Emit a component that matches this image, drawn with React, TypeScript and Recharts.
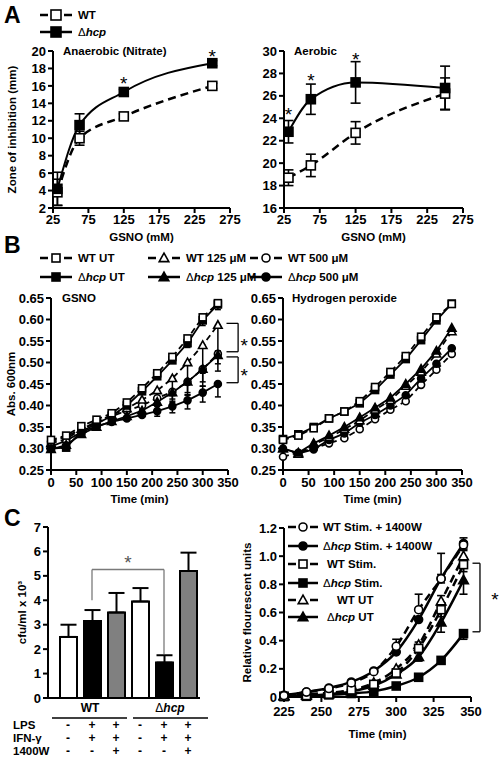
import React from 'react';
import {
  LineChart, Line, XAxis, YAxis, ErrorBar, ReferenceLine, ReferenceDot,
  BarChart, Bar, Cell,
} from 'recharts';

const FONT = '"Liberation Sans", Arial, Helvetica, sans-serif';

// ---------------- Panel A : zone of inhibition ----------------
const gsnoDoses = [31.25, 62.5, 125, 250];
const doseTicks = [25, 75, 125, 175, 225, 275];
const anaerobicWT = [3.8, 10.0, 12.5, 16.0];
const anaerobicWTErr = [1.5, 0.8, 0.3, 0.3];
const anaerobicHcp = [4.2, 11.5, 15.3, 18.6];
const anaerobicHcpErr = [1.9, 1.3, 0.3, 0.3];
const anaerobicStarDoses = [125, 250];
const anaerobicStarLevels = [16.25, 19.45];
const anaerobicTicks = [2, 4, 6, 8, 10, 12, 14, 16, 18, 20];

const aerobicWT = [18.7, 19.8, 22.7, 26.2];
const aerobicWTErr = [0.7, 1.0, 1.0, 1.4];
const aerobicHcp = [22.8, 25.7, 27.2, 26.7];
const aerobicHcpErr = [1.0, 1.35, 1.85, 1.95];
const aerobicStarDoses = [31.25, 62.5, 125];
const aerobicStarLevels = [24.35, 27.35, 29.25];
const aerobicTicks = [16, 18, 20, 22, 24, 26, 28, 30];

// ---------------- Panel B : growth curves ----------------
const times = [0, 30, 60, 90, 120, 150, 180, 210, 240, 270, 300, 330];
const timeTicks = [0, 50, 100, 150, 200, 250, 300, 350];
const absTicks = [0.25, 0.3, 0.35, 0.4, 0.45, 0.5, 0.55, 0.6, 0.65];

const gsnoWTUT = [0.320, 0.330, 0.352, 0.367, 0.382, 0.407, 0.440, 0.475, 0.513, 0.556, 0.605, 0.638];
const gsnoHcpUT = [0.300, 0.302, 0.340, 0.357, 0.376, 0.400, 0.433, 0.468, 0.505, 0.545, 0.598, 0.635];
const gsnoWT125 = [0.312, 0.322, 0.345, 0.362, 0.378, 0.393, 0.413, 0.435, 0.463, 0.500, 0.540, 0.587];
const gsnoHcp125 = [0.298, 0.308, 0.333, 0.350, 0.363, 0.375, 0.388, 0.408, 0.430, 0.455, 0.485, 0.517];
const gsnoWT500 = [0.316, 0.328, 0.345, 0.360, 0.375, 0.388, 0.400, 0.417, 0.432, 0.455, 0.485, 0.520];
const gsnoHcp500 = [0.305, 0.318, 0.338, 0.352, 0.362, 0.370, 0.378, 0.387, 0.398, 0.412, 0.430, 0.450];
const gsnoWT125Err = [[0, 0], [0, 0], [0, 0], [0, 0], [0, 0], [0.01, 0], [0.015, 0], [0.03, 0], [0.04, 0], [0.05, 0], [0.065, 0], [0.06, 0]];
const gsnoWT500Err = [[0, 0], [0, 0], [0, 0], [0, 0], [0, 0], [0, 0], [0.01, 0], [0.015, 0], [0.025, 0], [0.03, 0], [0.04, 0], [0.04, 0]];
const gsnoHcp500Err = [[0, 0], [0, 0], [0, 0], [0, 0], [0, 0], [0, 0], [0.005, 0.005], [0.012, 0.012], [0.015, 0.012], [0.02, 0.012], [0.022, 0.015], [0.03, 0]];
const gsnoHcp125Err = [[0, 0], [0, 0], [0, 0], [0, 0], [0, 0], [0, 0], [0, 0], [0.01, 0], [0.015, 0], [0.025, 0], [0.03, 0], [0.02, 0]];
const gsnoUTErr = [[0, 0], [0, 0], [0, 0], [0, 0], [0, 0], [0, 0], [0, 0], [0, 0], [0, 0], [0.01, 0], [0.012, 0.012], [0.012, 0]];

const h2o2WTUT = [0.320, 0.330, 0.347, 0.370, 0.386, 0.410, 0.443, 0.478, 0.515, 0.560, 0.605, 0.636];
const h2o2HcpUT = [0.322, 0.333, 0.350, 0.370, 0.386, 0.405, 0.436, 0.472, 0.508, 0.552, 0.598, 0.637];
const h2o2WT125 = [0.300, 0.287, 0.310, 0.325, 0.345, 0.365, 0.390, 0.412, 0.445, 0.478, 0.520, 0.572];
const h2o2Hcp125 = [0.300, 0.290, 0.312, 0.330, 0.350, 0.372, 0.395, 0.418, 0.450, 0.485, 0.527, 0.580];
const h2o2WT500 = [0.281, 0.290, 0.300, 0.312, 0.324, 0.345, 0.368, 0.390, 0.410, 0.448, 0.483, 0.520];
const h2o2Hcp500 = [0.300, 0.288, 0.298, 0.320, 0.335, 0.360, 0.378, 0.400, 0.424, 0.463, 0.497, 0.533];

// ---------------- Panel C : macrophage survival ----------------
const macCategories = ['WT UT', 'WT Stim.', 'WT Stim. + 1400W', 'Δhcp UT', 'Δhcp Stim.', 'Δhcp Stim. + 1400W'];
const macCfu = [2.5, 3.15, 3.5, 3.95, 1.45, 5.2];
const macCfuErr = [0.5, 0.45, 0.8, 0.55, 0.3, 0.75];
const macFill = ['#ffffff', '#000000', '#808080', '#ffffff', '#000000', '#808080'];
const lpsRow = ['-', '+', '+', '-', '+', '+'];
const ifnRow = ['-', '+', '+', '-', '+', '+'];
const w1400Row = ['-', '-', '+', '-', '-', '+'];
const cfuTicks = [0, 1, 2, 3, 4, 5, 6, 7];

const rfuTimes = [225, 240, 255, 270, 285, 300, 315, 330, 345];
const rfuTimeTicks = [225, 250, 275, 300, 325, 350];
const rfuTicks = [0, 0.2, 0.4, 0.6, 0.8, 1.0, 1.2];
const rfuWTStim1400 = [0.010, 0.035, 0.060, 0.100, 0.180, 0.360, 0.620, 0.840, 1.080];
const rfuHcpStim1400 = [0.012, 0.036, 0.064, 0.107, 0.185, 0.320, 0.550, 0.840, 1.090];
const rfuWTStim = [0.005, 0.010, 0.020, 0.050, 0.090, 0.170, 0.345, 0.620, 0.940];
const rfuHcpStim = [0.003, 0.005, 0.015, 0.025, 0.040, 0.078, 0.140, 0.260, 0.450];
const rfuWTUT = [0.010, 0.020, 0.030, 0.050, 0.100, 0.200, 0.370, 0.680, 1.000];
const rfuHcpUT = [0.005, 0.010, 0.020, 0.040, 0.080, 0.160, 0.285, 0.530, 0.830];
const rfuWTStim1400Err = [[0, 0], [0, 0], [0, 0], [0, 0], [0, 0], [0, 0.05], [0, 0.11], [0, 0.18], [0.02, 0.02]];
const rfuHcpStim1400Err = [[0, 0], [0, 0], [0, 0], [0, 0], [0, 0], [0, 0], [0, 0], [0.03, 0.03], [0.04, 0.04]];
const rfuWTStimErr = [[0, 0], [0, 0], [0, 0], [0, 0], [0, 0], [0, 0], [0.02, 0.02], [0.05, 0.05], [0.05, 0.05]];
const rfuHcpStimErr = [[0, 0], [0, 0], [0, 0], [0, 0], [0, 0], [0, 0], [0, 0], [0, 0], [0.04, 0.02]];
const rfuWTUTErr = [[0, 0], [0, 0], [0, 0], [0, 0], [0, 0], [0, 0], [0.02, 0.02], [0.04, 0.04], [0.04, 0.04]];
const rfuHcpUTErr = [[0, 0], [0, 0], [0, 0], [0, 0], [0, 0], [0, 0], [0.03, 0.03], [0.07, 0.07], [0.1, 0.1]];

// ---------------- helpers ----------------
const axisLine = { stroke: '#000', strokeWidth: 2 };
const tickStyle = { fill: '#000', fontSize: 13, fontWeight: 700, fontFamily: FONT };
const labelBase = { fontSize: 11.5, fontWeight: 700, fill: '#000', fontFamily: FONT };

type Shape = 'square' | 'triangle' | 'circle';

function Marker(props: any) {
  const { cx, cy, shape, filled, size } = props;
  if (cx == null || cy == null || Number.isNaN(cx) || Number.isNaN(cy)) return <g />;
  const fill = filled ? '#000' : '#fff';
  const s = size;
  if (shape === 'square') {
    return <rect x={cx - s / 2} y={cy - s / 2} width={s} height={s} fill={fill} stroke="#000" strokeWidth={1.6} />;
  }
  if (shape === 'triangle') {
    const pts = `${cx},${cy - s * 0.62} ${cx - s * 0.6},${cy + s * 0.45} ${cx + s * 0.6},${cy + s * 0.45}`;
    return <polygon points={pts} fill={fill} stroke="#000" strokeWidth={1.6} strokeLinejoin="miter" />;
  }
  return <circle cx={cx} cy={cy} r={s / 2} fill={fill} stroke="#000" strokeWidth={1.6} />;
}

const dotFn = (shape: Shape, filled: boolean, size: number) => (p: any) => (
  <Marker key={`m-${p.index}`} cx={p.cx} cy={p.cy} shape={shape} filled={filled} size={size} />
);

const starLabel = { value: '*', position: 'center' as const, fontSize: 19, fill: '#000', fontFamily: FONT };

function Hcp({ suffix }: { suffix?: string }) {
  return (
    <>
      <tspan fontWeight={400}>Δ</tspan>
      <tspan fontStyle="italic">hcp</tspan>
      {suffix ? <tspan>{suffix}</tspan> : null}
    </>
  );
}

function LegendEntry(props: any) {
  const { x, y, shape, filled, dashed, textX, len = 32, size = 8, children, dash = '8 16' } = props;
  return (
    <g>
      <line x1={x} x2={x + len} y1={y} y2={y} stroke="#000" strokeWidth={2.5} strokeDasharray={dashed ? dash : undefined} />
      <Marker cx={x + len / 2} cy={y} shape={shape} filled={filled} size={size} />
      <text x={textX ?? x + len + 6} y={y} dy="0.36em" fontSize={11.5} fontWeight={700} fill="#000" fontFamily={FONT}>
        {children}
      </text>
    </g>
  );
}

// ---------------- rows ----------------
const anaerobicRows = gsnoDoses.map((d, i) => ({
  dose: d, wt: anaerobicWT[i], wtErr: anaerobicWTErr[i], hcp: anaerobicHcp[i], hcpErr: anaerobicHcpErr[i],
}));
const aerobicRows = gsnoDoses.map((d, i) => ({
  dose: d, wt: aerobicWT[i], wtErr: aerobicWTErr[i], hcp: aerobicHcp[i], hcpErr: aerobicHcpErr[i],
}));
const gsnoRows = times.map((t, i) => ({
  t,
  wtUT: gsnoWTUT[i], hcpUT: gsnoHcpUT[i], wt125: gsnoWT125[i], hcp125: gsnoHcp125[i], wt500: gsnoWT500[i], hcp500: gsnoHcp500[i],
  wt125Err: gsnoWT125Err[i], wt500Err: gsnoWT500Err[i], hcp500Err: gsnoHcp500Err[i], hcp125Err: gsnoHcp125Err[i], utErr: gsnoUTErr[i],
}));
const h2o2Rows = times.map((t, i) => ({
  t,
  wtUT: h2o2WTUT[i], hcpUT: h2o2HcpUT[i], wt125: h2o2WT125[i], hcp125: h2o2Hcp125[i], wt500: h2o2WT500[i], hcp500: h2o2Hcp500[i],
}));
const macRows = macCategories.map((name, i) => ({ name, cfu: macCfu[i], err: [0, macCfuErr[i]] }));
const rfuRows = rfuTimes.map((t, i) => ({
  t,
  wtS14: rfuWTStim1400[i], hcpS14: rfuHcpStim1400[i], wtS: rfuWTStim[i], hcpS: rfuHcpStim[i], wtUT: rfuWTUT[i], hcpUT: rfuHcpUT[i],
  wtS14Err: rfuWTStim1400Err[i], hcpS14Err: rfuHcpStim1400Err[i], wtSErr: rfuWTStimErr[i], hcpSErr: rfuHcpStimErr[i],
  wtUTErr: rfuWTUTErr[i], hcpUTErr: rfuHcpUTErr[i],
}));

function ZoneChart({ rows, ticks, domain, starDoses, starLevels, yLabel, yWidth, width }: any) {
  return (
    <LineChart width={width} height={205} data={rows} margin={{ top: 11, right: 12, bottom: 4, left: 0 }}>
      <XAxis dataKey="dose" type="number" domain={[25, 275]} ticks={doseTicks} interval={0}
        axisLine={axisLine} tickLine={axisLine} tickSize={5} tick={tickStyle} height={33}
        label={{ value: 'GSNO (mM)', position: 'insideBottom', offset: 0, ...labelBase }} />
      <YAxis type="number" domain={domain} ticks={ticks} interval={0} width={yWidth}
        axisLine={axisLine} tickLine={axisLine} tickSize={5} tick={tickStyle}
        label={yLabel ? { value: yLabel, angle: -90, position: 'insideLeft', offset: 12, style: { textAnchor: 'middle' }, ...labelBase } : undefined} />
      <Line dataKey="wt" type="monotone" stroke="#000" strokeWidth={2.5} strokeDasharray="8 5"
        dot={dotFn('square', false, 9)} activeDot={false} isAnimationActive={false}>
        <ErrorBar dataKey="wtErr" width={5} stroke="#000" strokeWidth={1.6} />
      </Line>
      <Line dataKey="hcp" type="monotone" stroke="#000" strokeWidth={2}
        dot={dotFn('square', true, 9)} activeDot={false} isAnimationActive={false}>
        <ErrorBar dataKey="hcpErr" width={5} stroke="#000" strokeWidth={1.6} />
      </Line>
      {starDoses.map((d: number, i: number) => (
        <ReferenceDot key={`s${i}`} x={d} y={starLevels[i]} r={1} fill="none" stroke="none" ifOverflow="visible" label={starLabel} />
      ))}
    </LineChart>
  );
}

const bSeries = [
  { key: 'wt500', shape: 'circle', filled: false, dashed: true, err: 'wt500Err' },
  { key: 'hcp500', shape: 'circle', filled: true, dashed: false, err: 'hcp500Err' },
  { key: 'wt125', shape: 'triangle', filled: false, dashed: true, err: 'wt125Err' },
  { key: 'hcp125', shape: 'triangle', filled: true, dashed: false, err: 'hcp125Err' },
  { key: 'hcpUT', shape: 'square', filled: true, dashed: false, err: 'utErr' },
  { key: 'wtUT', shape: 'square', filled: false, dashed: true, err: null },
];

function GrowthChart({ rows, yWidth, width, rightMargin, yLabel, withErr, children }: any) {
  return (
    <LineChart width={width} height={220} data={rows} margin={{ top: 13, right: rightMargin, bottom: 2, left: 0 }}>
      <XAxis dataKey="t" type="number" domain={[0, 350]} ticks={timeTicks} interval={0}
        axisLine={axisLine} tickLine={axisLine} tickSize={5} tickMargin={3} tick={tickStyle} height={33}
        label={{ value: 'Time (min)', position: 'insideBottom', offset: 0, ...labelBase }} />
      <YAxis type="number" domain={[0.25, 0.65]} ticks={absTicks} interval={0} width={yWidth}
        tickFormatter={(v: number) => v.toFixed(2)}
        axisLine={axisLine} tickLine={axisLine} tickSize={5} tick={tickStyle}
        label={yLabel ? { value: yLabel, angle: -90, position: 'insideLeft', offset: 11, style: { textAnchor: 'middle' }, ...labelBase } : undefined} />
      {bSeries.map((s) => (
        <Line key={s.key} dataKey={s.key} type="linear" stroke="#000" strokeWidth={1.8}
          strokeDasharray={s.dashed ? '6 4' : undefined}
          dot={dotFn(s.shape as Shape, s.filled, 7)} activeDot={false} isAnimationActive={false}>
          {withErr && s.err ? <ErrorBar dataKey={s.err} width={3} stroke="#000" strokeWidth={1.5} /> : null}
        </Line>
      ))}
      {children}
    </LineChart>
  );
}

const TreatmentTick = (props: any) => {
  const { x, y, payload } = props;
  const i = macCategories.indexOf(payload.value);
  const signs = [lpsRow[i], ifnRow[i], w1400Row[i]];
  return (
    <g>
      {signs.map((s, r) => (
        <text key={r} x={x} y={y + 27 + r * 13} dy="0.36em" textAnchor="middle" fontSize={12} fontWeight={700} fill="#000" fontFamily={FONT}>{s}</text>
      ))}
    </g>
  );
};

const cSeries = [
  { key: 'hcpS', shape: 'square', filled: true, dashed: false, err: 'hcpSErr' },
  { key: 'hcpUT', shape: 'triangle', filled: true, dashed: false, err: 'hcpUTErr' },
  { key: 'wtUT', shape: 'triangle', filled: false, dashed: true, err: 'wtUTErr' },
  { key: 'wtS', shape: 'square', filled: false, dashed: true, err: 'wtSErr' },
  { key: 'hcpS14', shape: 'circle', filled: true, dashed: false, err: 'hcpS14Err' },
  { key: 'wtS14', shape: 'circle', filled: false, dashed: true, err: 'wtS14Err' },
];

export default function App() {
  return (
    <div style={{ position: 'absolute', left: 0, top: 0, width: 504, height: 763, background: '#fff', fontFamily: FONT }}>
      {/* Panel A */}
      <div style={{ position: 'absolute', left: 0, top: 40 }}>
        <ZoneChart rows={anaerobicRows} ticks={anaerobicTicks} domain={[2, 20]} starDoses={anaerobicStarDoses}
          starLevels={anaerobicStarLevels} yLabel="Zone of inhibition (mm)" yWidth={53} width={242} />
      </div>
      <div style={{ position: 'absolute', left: 250, top: 40 }}>
        <ZoneChart rows={aerobicRows} ticks={aerobicTicks} domain={[16, 30]} starDoses={aerobicStarDoses}
          starLevels={aerobicStarLevels} yWidth={34} width={225} />
      </div>

      {/* Panel B */}
      <div style={{ position: 'absolute', left: 0, top: 285 }}>
        <GrowthChart rows={gsnoRows} yWidth={51} width={252} rightMargin={24} yLabel="Abs. 600nm" withErr>
          <ReferenceLine segment={[{ x: 347, y: 0.591 }, { x: 370, y: 0.591 }]} stroke="#000" strokeWidth={1.3} ifOverflow="visible" />
          <ReferenceLine segment={[{ x: 370, y: 0.591 }, { x: 370, y: 0.525 }]} stroke="#000" strokeWidth={1.3} ifOverflow="visible" />
          <ReferenceLine segment={[{ x: 347, y: 0.525 }, { x: 370, y: 0.525 }]} stroke="#000" strokeWidth={1.3} ifOverflow="visible" />
          <ReferenceLine segment={[{ x: 347, y: 0.513 }, { x: 370, y: 0.513 }]} stroke="#000" strokeWidth={1.3} ifOverflow="visible" />
          <ReferenceLine segment={[{ x: 370, y: 0.513 }, { x: 370, y: 0.453 }]} stroke="#000" strokeWidth={1.3} ifOverflow="visible" />
          <ReferenceLine segment={[{ x: 347, y: 0.453 }, { x: 370, y: 0.453 }]} stroke="#000" strokeWidth={1.3} ifOverflow="visible" />
          <ReferenceDot x={382} y={0.539} r={1} fill="none" stroke="none" ifOverflow="visible" label={starLabel} />
          <ReferenceDot x={382} y={0.47} r={1} fill="none" stroke="none" ifOverflow="visible" label={starLabel} />
        </GrowthChart>
      </div>
      <div style={{ position: 'absolute', left: 250, top: 285 }}>
        <GrowthChart rows={h2o2Rows} yWidth={33} width={225} rightMargin={13} />
      </div>

      {/* Panel C left: bars */}
      <div style={{ position: 'absolute', left: 0, top: 515 }}>
        <BarChart width={215} height={248} data={macRows} margin={{ top: 12, right: 15, bottom: 5, left: 0 }}>
          <XAxis dataKey="name" type="category" interval={0} padding={{ left: 8, right: 0 }}
            axisLine={axisLine} tickLine={false} tickSize={0} tickMargin={0} height={60} tick={<TreatmentTick />} />
          <YAxis type="number" domain={[0, 7]} ticks={cfuTicks} interval={0} width={48}
            axisLine={axisLine} tickLine={axisLine} tickSize={5} tick={tickStyle}
            label={{ value: 'cfu/ml x 10³', angle: -90, position: 'insideLeft', offset: 22, style: { textAnchor: 'middle' }, ...labelBase }} />
          <Bar dataKey="cfu" barSize={17} stroke="#000" strokeWidth={2} isAnimationActive={false}>
            {macRows.map((r, i) => <Cell key={r.name} fill={macFill[i]} />)}
            <ErrorBar dataKey="err" width={8} stroke="#000" strokeWidth={2} />
          </Bar>
          <ReferenceLine segment={[{ x: macCategories[1], y: 4.0 }, { x: macCategories[1], y: 5.26 }]} stroke="#7a7a7a" strokeWidth={1.3} />
          <ReferenceLine segment={[{ x: macCategories[1], y: 5.26 }, { x: macCategories[4], y: 5.26 }]} stroke="#7a7a7a" strokeWidth={1.3}
            label={{ value: '*', position: 'top', offset: 1, fontSize: 19, fill: '#555', fontFamily: FONT }} />
          <ReferenceLine segment={[{ x: macCategories[4], y: 5.26 }, { x: macCategories[4], y: 1.8 }]} stroke="#7a7a7a" strokeWidth={1.3} />
        </BarChart>
      </div>

      {/* Panel C right: fluorescence */}
      <div style={{ position: 'absolute', left: 235, top: 515 }}>
        <LineChart width={269} height={248} data={rfuRows} margin={{ top: 13, right: 33, bottom: 21, left: 0 }}>
          <XAxis dataKey="t" type="number" domain={[225, 350]} ticks={rfuTimeTicks} interval={0}
            axisLine={axisLine} tickLine={axisLine} tickSize={5} tickMargin={5} tick={tickStyle} height={45}
            label={{ value: 'Time (min)', position: 'insideBottom', offset: 4, ...labelBase }} />
          <YAxis type="number" domain={[0, 1.2]} ticks={rfuTicks} interval={0} width={49}
            tickFormatter={(v: number) => (v === 0 ? '0' : v.toFixed(1))}
            axisLine={axisLine} tickLine={axisLine} tickSize={5} tick={tickStyle}
            label={{ value: 'Relative flourescent units', angle: -90, position: 'insideLeft', offset: 12, style: { textAnchor: 'middle' }, ...labelBase }} />
          {cSeries.map((s) => (
            <Line key={s.key} dataKey={s.key} type="monotone" stroke="#000" strokeWidth={2.5}
              strokeDasharray={s.dashed ? '8 5' : undefined}
              dot={dotFn(s.shape as Shape, s.filled, 8)} activeDot={false} isAnimationActive={false}>
              <ErrorBar dataKey={s.err} width={4} stroke="#000" strokeWidth={1.6} />
            </Line>
          ))}
          <ReferenceLine segment={[{ x: 351, y: 0.95 }, { x: 356, y: 0.95 }]} stroke="#000" strokeWidth={1.3} ifOverflow="visible" />
          <ReferenceLine segment={[{ x: 356, y: 0.95 }, { x: 356, y: 0.463 }]} stroke="#000" strokeWidth={1.3} ifOverflow="visible" />
          <ReferenceLine segment={[{ x: 351, y: 0.463 }, { x: 356, y: 0.463 }]} stroke="#000" strokeWidth={1.3} ifOverflow="visible" />
          <ReferenceDot x={366} y={0.697} r={1} fill="none" stroke="none" ifOverflow="visible" label={starLabel} />
        </LineChart>
      </div>

      {/* Overlay text and legends */}
      <svg width={504} height={763} style={{ position: 'absolute', left: 0, top: 0, pointerEvents: 'none' }} fontFamily={FONT}>
        <text x={4} y={23} fontSize={23} fontWeight={700} fill="#000">A</text>
        <text x={4} y={253} fontSize={23} fontWeight={700} fill="#000">B</text>
        <text x={4} y={526} fontSize={23} fontWeight={700} fill="#000">C</text>

        <LegendEntry x={40} y={15} shape="square" filled={false} dashed size={10}>WT</LegendEntry>
        <LegendEntry x={40} y={32} shape="square" filled size={10}><Hcp /></LegendEntry>

        <text x={63} y={55} fontSize={11.5} fontWeight={700} fill="#000">Anaerobic (Nitrate)</text>
        <text x={294} y={55} fontSize={11.5} fontWeight={700} fill="#000">Aerobic</text>

        <LegendEntry x={40} y={258} shape="square" filled={false} dashed size={8}>WT UT</LegendEntry>
        <LegendEntry x={40} y={277} shape="square" filled size={8}><Hcp suffix=" UT" /></LegendEntry>
        <LegendEntry x={148} y={258} shape="triangle" filled={false} dashed size={8}>WT 125 μM</LegendEntry>
        <LegendEntry x={148} y={277} shape="triangle" filled size={8}><Hcp suffix=" 125 μM" /></LegendEntry>
        <LegendEntry x={250} y={258} shape="circle" filled={false} dashed size={8}>WT 500 μM</LegendEntry>
        <LegendEntry x={250} y={277} shape="circle" filled size={8}><Hcp suffix=" 500 μM" /></LegendEntry>

        <text x={62} y={302} fontSize={11.5} fontWeight={700} fill="#000">GSNO</text>
        <text x={292} y={302} fontSize={11.5} fontWeight={700} fill="#000">Hydrogen peroxide</text>

        <text x={90} y={712} textAnchor="middle" fontSize={12} fontWeight={700} fill="#000">WT</text>
        <text x={170} y={712} textAnchor="middle" fontSize={12} fontWeight={700} fill="#000"><Hcp /></text>
        <line x1={52} x2={127} y1={718} y2={718} stroke="#000" strokeWidth={1.5} />
        <line x1={133} x2={208} y1={718} y2={718} stroke="#000" strokeWidth={1.5} />
        <text x={13} y={725} dy="0.36em" fontSize={11.5} fontWeight={700} fill="#000">LPS</text>
        <text x={13} y={738} dy="0.36em" fontSize={11.5} fontWeight={700} fill="#000">IFN-γ</text>
        <text x={13} y={751} dy="0.36em" fontSize={11.5} fontWeight={700} fill="#000">1400W</text>

        <LegendEntry x={288} y={527} len={30} dash="8 14" shape="circle" filled={false} dashed textX={323}>WT Stim. + 1400W</LegendEntry>
        <LegendEntry x={288} y={546} len={30} dash="8 14" shape="circle" filled textX={323}><Hcp suffix=" Stim. + 1400W" /></LegendEntry>
        <LegendEntry x={288} y={564} len={30} dash="8 14" shape="square" filled={false} dashed textX={327}>WT Stim.</LegendEntry>
        <LegendEntry x={288} y={583} len={30} dash="8 14" shape="square" filled textX={323}><Hcp suffix=" Stim." /></LegendEntry>
        <LegendEntry x={288} y={600} len={30} dash="8 14" shape="triangle" filled={false} dashed textX={337}>WT UT</LegendEntry>
        <LegendEntry x={288} y={617} len={30} dash="8 14" shape="triangle" filled textX={327}><Hcp suffix=" UT" /></LegendEntry>
      </svg>
    </div>
  );
}
